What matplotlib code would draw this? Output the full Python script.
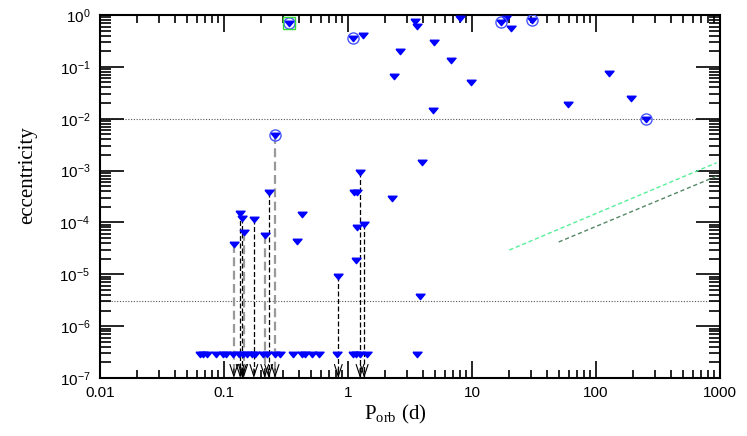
import numpy as np
import matplotlib
matplotlib.use('Agg')
import matplotlib.pyplot as plt
from matplotlib.ticker import LogLocator, FuncFormatter, LogFormatterSciNotation, NullFormatter

plt.rcParams['font.family'] = ['Liberation Sans', 'DejaVu Sans']
plt.rcParams['mathtext.fontset'] = 'custom'
plt.rcParams['mathtext.rm'] = 'Liberation Serif'

# upper limits with a dashed drop line and an arrow at the bottom
arrow_P = [0.120, 0.135, 0.1405, 0.144, 0.174, 0.213, 0.229, 0.258, 0.835, 1.25, 1.35]
arrow_e = [3.8e-5, 1.54e-4, 1.24e-4, 6.6e-5, 1.15e-4, 5.7e-5, 3.86e-4, 4.85e-3, 9.4e-6, 9.5e-4, 9.5e-5]
arrow_kind = ['grey', 'black', 'black', 'grey', 'black', 'grey', 'black', 'grey', 'black', 'black', 'black']

# other measured systems
tri_P = [0.334, 1.10, 1.32, 3.47, 3.57, 8.0, 17.1, 18.7, 20.5, 30.3, 4.97, 2.61, 6.81,
         2.35, 9.75, 59.8, 4.84, 128, 190, 253, 0.427, 0.385, 1.12, 1.19, 1.18, 1.16,
         3.93, 2.25, 3.81]
tri_e = [0.69, 0.355, 0.42, 0.77, 0.605, 0.86, 0.72, 0.89, 0.55, 0.80, 0.30, 0.205, 0.134,
         0.068, 0.052, 0.0192, 0.0145, 0.075, 0.0248, 0.0099, 1.43e-4, 4.3e-5, 3.86e-4, 3.86e-4,
         8.2e-5, 1.9e-5, 1.46e-3, 3.0e-4, 3.76e-6]

# systems at the floor value
floor_P = [0.064, 0.0678, 0.073, 0.086, 0.098, 0.104, 0.118, 0.132, 0.142, 0.153, 0.168,
           0.178, 0.206, 0.222, 0.258, 0.283, 0.362, 0.424, 0.45, 0.509, 0.587, 0.811,
           1.09, 1.16, 1.25, 1.43, 3.58]
floor_e = 2.9e-7

# circled objects
circ_P = [0.334, 1.10, 17.1, 30.3, 253, 0.258]
circ_e = [0.69, 0.355, 0.72, 0.80, 0.0099, 4.85e-3]
sq_P = [0.334]
sq_e = [0.69]

# reference lines
hline_e = [0.01, 3e-6]
lineA_P = [20, 940]
lineA_e = [2.94e-5, 1.42e-3]
lineB_P = [50, 950]
lineB_e = [4.2e-5, 7.9e-4]

fig = plt.figure(figsize=(7.47, 4.36), dpi=100)
ax = fig.add_axes([0.1339, 0.133, 0.830, 0.8326])
ax.set_xscale('log')
ax.set_yscale('log')
ax.set_xlim(0.01, 1000)
ax.set_ylim(1e-7, 1)

for e in hline_e:
    ax.axhline(e, color='#555555', lw=0.8, ls=(0, (1, 1.5)), zorder=1)

ax.plot(lineA_P, lineA_e, color='#55ee99', lw=1.0, ls=(0, (3, 2)))
ax.plot(lineB_P, lineB_e, color='#558866', lw=1.0, ls=(0, (3, 2)))

for P, e, k in zip(arrow_P, arrow_e, arrow_kind):
    if k == 'grey':
        ax.plot([P, P], [e, 1e-7], color='#999999', lw=1.6, ls=(0, (4, 2)), zorder=2)
    else:
        ax.plot([P, P], [e, 1e-7], color='black', lw=0.9, ls=(0, (4, 2)), zorder=2)
    ax.annotate('', xy=(P, 1e-7), xytext=(P, 1.5e-7),
                arrowprops=dict(arrowstyle='->,head_length=0.85,head_width=0.28',
                                color='black', lw=0.8, shrinkA=0, shrinkB=0))

tri = [(-1, 0.5), (1, 0.5), (0, -0.7), (-1, 0.5)]
ms = 6.5
ax.plot(arrow_P, arrow_e, marker=tri, ls='none', color='#0000ff', ms=ms, zorder=4)
ax.plot(tri_P, tri_e, marker=tri, ls='none', color='#0000ff', ms=ms, zorder=4)
ax.plot(floor_P, [floor_e] * len(floor_P), marker=tri, ls='none', color='#0000ff', ms=ms, zorder=4)
ax.plot(circ_P, circ_e, 'o', mfc='none', mec='#4455ff', mew=1.0, ms=8, zorder=5)
ax.plot(sq_P, sq_e, 's', mfc='none', mec='#33dd33', mew=1.0, ms=9, zorder=5)

ax.xaxis.set_major_locator(LogLocator(base=10, numticks=10))
ax.xaxis.set_minor_locator(LogLocator(base=10, subs=np.arange(2, 10), numticks=20))
ax.yaxis.set_major_locator(LogLocator(base=10, numticks=10))
ax.yaxis.set_minor_locator(LogLocator(base=10, subs=np.arange(2, 10), numticks=20))
ax.xaxis.set_major_formatter(FuncFormatter(lambda v, p: '%g' % v))
ax.xaxis.set_minor_formatter(NullFormatter())
ax.yaxis.set_major_formatter(LogFormatterSciNotation())
ax.yaxis.set_minor_formatter(NullFormatter())

ax.tick_params(which='both', direction='in', top=True, right=True, width=1.2, labelsize=11)
ax.tick_params(axis='x', which='major', length=12, pad=6)
ax.tick_params(axis='x', which='minor', length=6)
ax.tick_params(axis='y', which='major', length=17, pad=7)
ax.tick_params(axis='y', which='minor', length=8)
for s in ax.spines.values():
    s.set_linewidth(1.5)

ax.set_ylabel('eccentricity', family='Liberation Serif', fontsize=15)
ax.yaxis.set_label_coords(-0.102, 0.56)
ax.set_xlabel(r'P$_{\mathrm{orb}}$ (d)', family='Liberation Serif', fontsize=15)
ax.xaxis.set_label_coords(0.476, -0.07)

fig.savefig('out.png', dpi=100)
